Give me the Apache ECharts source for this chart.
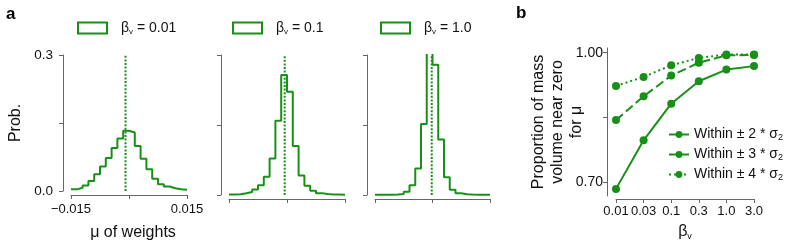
<!DOCTYPE html>
<html><head><meta charset="utf-8">
<script src="https://cdn.jsdelivr.net/npm/echarts@6/dist/echarts.min.js"></script>
<style>html,body{margin:0;padding:0;background:#fff}#c{width:788px;height:246px}</style>
</head><body><div id="c"></div>
<script>
// ---------- data ----------
const histRange = [-0.015, 0.015];
const histBinCount = 20;
const histTickLabels = ['\u22120.015', '0.015'];
const probTickLabels = ['0.0', '0.3'];
const betaLegend = ['0.01', '0.1', '1.0'];
const probBeta001 = [0.0036, 0.007, 0.012, 0.022, 0.037, 0.054, 0.073, 0.095, 0.116, 0.133, 0.129, 0.099, 0.071, 0.048, 0.027, 0.015, 0.010, 0.006, 0.004, 0.003];
const probBeta01 = [0.001, 0.0015, 0.0036, 0.0064, 0.012, 0.021, 0.039, 0.078, 0.159, 0.257, 0.221, 0.105, 0.042, 0.020, 0.009, 0.004, 0.002, 0.0012, 0.001, 0.0008];
const probBeta1 = [0.0008, 0.0008, 0.0008, 0.001, 0.002, 0.007, 0.021, 0.057, 0.152, 0.31, 0.279, 0.119, 0.038, 0.011, 0.0036, 0.0015, 0.001, 0.0008, 0.0008, 0.0008];
const meanBeta = [-0.0009, -0.0006, -0.0002];
const betaCategories = ['0.01', '0.03', '0.1', '0.3', '1.0', '3.0'];
const within2 = [0.6845, 0.797, 0.882, 0.934, 0.961, 0.969];
const within3 = [0.844, 0.899, 0.947, 0.977, 0.994, 0.995];
const within4 = [0.923, 0.944, 0.971, 0.988, 0.996, 0.996];
const propTicks = [0.70, 0.85, 1.00];
const propTickLabels = [0.70, 1.00];
const withinLegend = ['2', '3', '4'];

// ---------- styling ----------
const GREEN = '#189018';
const AXIS = '#666';
const FONT = '"Liberation Sans", Arial, sans-serif';
const TXT = '#111';

const hists = [probBeta001, probBeta01, probBeta1];
const gridLeft = [71, 229, 375];
const gridWidth = [116, 116, 115];
const legLeft = [77, 232, 380];
const probMax = 0.3;

const binW = (histRange[1] - histRange[0]) / histBinCount;
function stepData(vals) {
  const d = vals.map((v, i) => [histRange[0] + i * binW, v]);
  d.push([histRange[1], vals[vals.length - 1]]);
  return d;
}

const grid = [], xAxis = [], yAxis = [], series = [], legend = [];
for (let k = 0; k < 3; k++) {
  grid.push({ left: gridLeft[k], width: gridWidth[k], top: 55, height: 140 });
  xAxis.push({
    type: 'value', gridIndex: k, min: histRange[0], max: histRange[1], interval: 0.015,
    offset: 4,
    axisLine: { show: true, onZero: false, lineStyle: { color: AXIS, width: 1 } },
    axisTick: { show: true, length: 4, lineStyle: { color: AXIS } },
    splitLine: { show: false },
    axisLabel: {
      show: k === 0, margin: 8, fontSize: 13, color: TXT, fontFamily: FONT,
      formatter: v => v < -1e-9 ? histTickLabels[0] : (v > 1e-9 ? histTickLabels[1] : '')
    },
    name: k === 0 ? 'μ of weights' : '', nameLocation: 'middle', nameGap: 30, nameMoveOverlap: false,
    nameTextStyle: { fontSize: 16, color: TXT, fontFamily: FONT, padding: [0, 0, 0, 8] }
  });
  yAxis.push({
    type: 'value', gridIndex: k, min: 0, max: probMax, interval: 0.15,
    offset: 8,
    axisLine: { show: true, onZero: false, lineStyle: { color: AXIS, width: 1 } },
    axisTick: { show: true, length: 4, lineStyle: { color: AXIS } },
    splitLine: { show: false },
    axisLabel: {
      show: k === 0, margin: 10, fontSize: 13.5, color: TXT, fontFamily: FONT,
      formatter: v => v < 1e-9 ? probTickLabels[0] : (v > 0.29 ? probTickLabels[1] : '')
    },
    name: k === 0 ? 'Prob.' : '', nameLocation: 'middle', nameGap: 39, nameRotate: 90, nameMoveOverlap: false,
    nameTextStyle: { fontSize: 16, color: TXT, fontFamily: FONT }
  });
  series.push({
    type: 'line', name: 'mean' + k, xAxisIndex: k, yAxisIndex: k,
    data: [[meanBeta[k], 0], [meanBeta[k], probMax]], showSymbol: false, symbol: 'none',
    lineStyle: { color: GREEN, width: 2, type: [2, 1.6] }, z: 1
  });
  series.push({
    type: 'line', name: 'hist' + k, xAxisIndex: k, yAxisIndex: k,
    step: 'end', data: stepData(hists[k]), showSymbol: false, symbol: 'none',
    clip: true, z: 2,
    lineStyle: { color: GREEN, width: 2 }
  });
  series.push({
    type: 'bar', name: 'leg' + k, xAxisIndex: k, yAxisIndex: k, data: [],
    itemStyle: { color: 'rgba(255,255,255,0)', borderColor: GREEN, borderWidth: 2 }
  });
  legend.push({
    left: legLeft[k], top: 21, padding: 0, icon: 'rect', itemWidth: 29, itemHeight: 11,
    selectedMode: false,
    data: [{ name: 'leg' + k, itemStyle: { color: 'rgba(255,255,255,0)', borderColor: GREEN, borderWidth: 2 } }],
    formatter: () => '{b|β}{s|v}{t| = ' + betaLegend[k] + '}',
    textStyle: {
      fontFamily: FONT, color: TXT,
      rich: {
        b: { fontSize: 14, lineHeight: 16, padding: [0, 0, 0, 9], fontFamily: FONT, color: TXT },
        s: { fontSize: 8, lineHeight: 8, verticalAlign: 'bottom', fontFamily: FONT, color: TXT },
        t: { fontSize: 14, lineHeight: 16, fontFamily: FONT, color: TXT }
      }
    }
  });
}

// panel b
grid.push({ left: 616, width: 138, top: 48, height: 149 });
xAxis.push({
  type: 'category', gridIndex: 3, data: betaCategories, boundaryGap: false, offset: 3,
  axisLine: { show: true, onZero: false, lineStyle: { color: AXIS, width: 1 } },
  axisTick: { show: true, length: 4, alignWithLabel: true, interval: 0, lineStyle: { color: AXIS } },
  axisLabel: { interval: 0, margin: 6, fontSize: 13, color: TXT, fontFamily: FONT },
  splitLine: { show: false },
  name: '{b|β}{s|v}', nameLocation: 'middle', nameGap: 24, nameMoveOverlap: false,
  nameTextStyle: {
    rich: {
      b: { fontSize: 16, lineHeight: 18, fontFamily: FONT, color: TXT },
      s: { fontSize: 9, lineHeight: 9, verticalAlign: 'bottom', fontFamily: FONT, color: TXT }
    }
  }
});
yAxis.push({
  type: 'value', gridIndex: 3, min: 0.668, max: 1.011, offset: 9,
  axisLine: { show: true, onZero: false, lineStyle: { color: AXIS, width: 1 } },
  axisTick: { show: true, length: 4, customValues: propTicks, lineStyle: { color: AXIS } },
  axisLabel: { margin: 4, fontSize: 14, color: TXT, fontFamily: FONT, customValues: propTickLabels, formatter: v => v.toFixed(2) },
  splitLine: { show: false },
  name: 'Proportion of mass\nvolume near zero\nfor μ', nameLocation: 'middle', nameGap: 21, nameRotate: 90, nameMoveOverlap: false,
  nameTextStyle: { fontSize: 16, lineHeight: 19, color: TXT, fontFamily: FONT }
});
const withinData = [within2, within3, within4];
const dashes = ['solid', [9, 4], [2, 3]];
for (let j = 0; j < 3; j++) {
  series.push({
    type: 'line', name: 'w' + j, xAxisIndex: 3, yAxisIndex: 3, data: withinData[j],
    symbol: 'circle', symbolSize: 8, showSymbol: true,
    itemStyle: { color: GREEN },
    lineStyle: { color: GREEN, width: 2, type: dashes[j] }
  });
}
legend.push({
  left: 668, top: 127.5, padding: 0, orient: 'vertical', itemGap: 5, itemWidth: 20, itemHeight: 8.5,
  selectedMode: false,
  data: ['w0', 'w1', 'w2'],
  formatter: n => '{t|Within ± ' + withinLegend[+n.slice(1)] + ' * σ}{s|2}',
  textStyle: {
    fontFamily: FONT, color: TXT,
    rich: {
      t: { fontSize: 14, lineHeight: 16, fontFamily: FONT, color: TXT },
      s: { fontSize: 9, lineHeight: 9, verticalAlign: 'bottom', fontFamily: FONT, color: TXT }
    }
  }
});

const chart = echarts.init(document.getElementById('c'), null, { renderer: 'canvas' });
chart.setOption({
  animation: false,
  backgroundColor: '#fff',
  textStyle: { fontFamily: FONT },
  title: [
    { text: 'a', left: 1, top: 1, textStyle: { fontSize: 17, fontWeight: 'bold', color: '#000', fontFamily: FONT } },
    { text: 'b', left: 511, top: 0, textStyle: { fontSize: 17, fontWeight: 'bold', color: '#000', fontFamily: FONT } }
  ],
  grid, xAxis, yAxis, series, legend
});
</script></body></html>
